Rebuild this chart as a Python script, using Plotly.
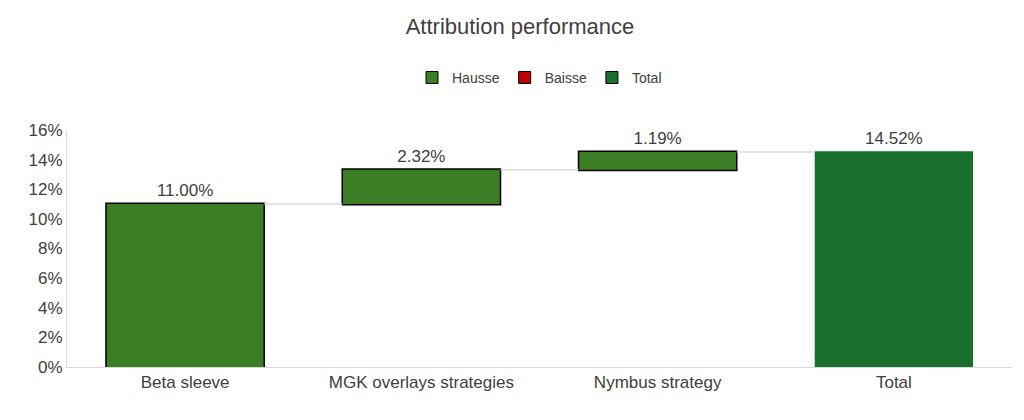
import plotly.graph_objects as go

categories = ["Beta sleeve", "MGK overlays strategies", "Nymbus strategy", "Total"]
values = [0.11, 0.0232, 0.0119, 0.1452]
measures = ["relative", "relative", "relative", "total"]
labels = ["11.00%", "2.32%", "1.19%", "14.52%"]

up_color = "#3b7d23"
total_color = "#19702d"
down_color = "#c00000"

fig = go.Figure()
fig.add_trace(go.Waterfall(
    x=categories, y=values, measure=measures,
    text=labels, textposition="outside",
    textfont=dict(size=17, color="#404040"),
    increasing=dict(marker=dict(color=up_color, line=dict(color="black", width=1.5))),
    decreasing=dict(marker=dict(color=down_color, line=dict(color="black", width=1.5))),
    totals=dict(marker=dict(color=total_color, line=dict(color=total_color, width=0))),
    connector=dict(line=dict(color="#d9d9d9", width=1.5)),
    width=0.67, showlegend=False, cliponaxis=False,
))

for name, col in [("Hausse", up_color), ("Baisse", down_color), ("Total", total_color)]:
    fig.add_trace(go.Bar(x=[None], y=[None], name=name,
                         marker=dict(color=col, line=dict(color="black", width=1))))

fig.update_layout(
    width=1024, height=420,
    paper_bgcolor="white", plot_bgcolor="white",
    font=dict(family="Liberation Sans, Arial", color="#404040"),
    title=dict(text="Attribution performance", x=0.5, y=0.975, xanchor="center",
               font=dict(size=22, color="#404040")),
    legend=dict(orientation="h", x=0.5, xanchor="center", y=1.22, yanchor="middle",
                font=dict(size=14, color="#404040")),
    margin=dict(l=59, r=20, t=122, b=61),
    barmode="overlay",
)
fig.update_yaxes(range=[0, 0.16], dtick=0.02, tickformat=".0%", showgrid=False,
                 showline=True, linecolor="#d9d9d9", tickfont=dict(size=17), ticks="", zeroline=False)
fig.update_xaxes(showline=True, linecolor="#d9d9d9", tickfont=dict(size=17))

fig.write_html("out.html")
